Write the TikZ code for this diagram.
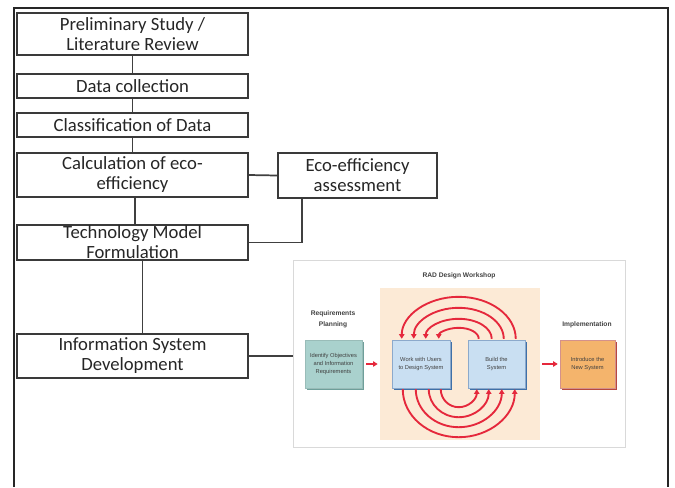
\documentclass[tikz,border=0pt]{standalone}
\usepackage{fontspec}
\setmainfont{Carlito}
\newfontfamily\radfont{Liberation Sans}
\usetikzlibrary{arrows.meta,calc,shadows}
\definecolor{boxline}{HTML}{3A3A3A}
\definecolor{connline}{HTML}{404040}
\definecolor{txt}{HTML}{262626}
\definecolor{radred}{HTML}{E5283C}
\definecolor{peach}{HTML}{FCEAD6}
\definecolor{greenfill}{HTML}{A9D1CD}
\definecolor{greenshadow}{HTML}{6E9F9A}
\definecolor{bluefill}{HTML}{C9DFF2}
\definecolor{blueshadow}{HTML}{3F70A8}
\definecolor{orangefill}{HTML}{F4B46C}
\definecolor{orangeshadow}{HTML}{B8473E}
\definecolor{radtxt}{HTML}{404040}
\begin{document}
\begin{tikzpicture}[x=0.75pt,y=-0.75pt,
  flowbox/.style={draw=boxline, line width=1.2pt, fill=white, minimum width=173.25pt,
    inner sep=0pt, align=center, text=txt, font=\fontsize{14}{15}\selectfont},
  conn/.style={draw=connline, line width=1.3pt},
  radbox/.style={minimum width=42.75pt, minimum height=36pt, inner sep=0pt, align=center,
    text=radtxt, font=\radfont\fontsize{4.3}{6}\selectfont},
  radtitle/.style={align=center, inner sep=0pt, text=radtxt, font=\radfont\bfseries\fontsize{5}{8.5}\selectfont},
  redarc/.style={draw=radred, line width=1.4pt, -{Triangle[length=3.5pt,width=4pt]}},
  redarrow/.style={draw=radred, line width=1.2pt, -{Triangle[length=3.5pt,width=4pt]}}
]
\useasboundingbox (0,0) rectangle (675,487);
\fill[white] (0,0) rectangle (675,487);
\draw[line width=1.5pt, black!85] (14,487) -- (14,8) -- (668,8) -- (668,487);

% flow boxes
\node[flowbox, minimum height=31.5pt] (b1) at (132.5,34) {Preliminary Study /\\Literature Review};
\node[flowbox, minimum height=18pt] (b2) at (132.5,86) {Data collection};
\node[flowbox, minimum height=18pt] (b3) at (132.5,125) {Classification of Data};
\node[flowbox, minimum height=33pt] (b4) at (132.5,175) {Calculation of eco-\\efficiency};
\node[flowbox, minimum height=26.25pt] (b5) at (132.5,242.5) {Technology Model\\Formulation};
\node[flowbox, minimum height=33pt] (b6) at (132.5,356) {Information System\\Development};
\node[flowbox, minimum width=119.25pt, minimum height=33.75pt] (eco) at (357.5,175.5) {Eco-efficiency\\assessment};

% RAD picture
\node[draw=gray!30, line width=0.6pt, fill=white, minimum width=249pt, minimum height=140.25pt, inner sep=0pt] (rad) at (459,353.5) {};
\node[fill=peach, minimum width=120pt, minimum height=114pt, inner sep=0pt] (peachbg) at (460,364) {};
\node[radtitle] (t1) at (459,276) {RAD Design Workshop};
\node[radtitle] (t2) at (333,319) {Requirements\\Planning};
\node[radtitle] (t3) at (587,325) {Implementation};
\node[radbox, fill=greenfill, draw=greenshadow!70, line width=0.3pt,
  drop shadow={shadow xshift=1.6pt, shadow yshift=-1.6pt, fill=greenshadow, opacity=1}]
  (g) at (333.5,364) {Identify Objectives\\and Information\\Requirements};
\node[radbox, minimum width=43.5pt, fill=bluefill, draw=blueshadow!60, line width=0.3pt,
  drop shadow={shadow xshift=1.6pt, shadow yshift=-1.6pt, fill=blueshadow, opacity=1}]
  (u1) at (421,364) {Work with Users\\to Design System};
\node[radbox, fill=bluefill, draw=blueshadow!60, line width=0.3pt,
  drop shadow={shadow xshift=1.6pt, shadow yshift=-1.6pt, fill=blueshadow, opacity=1}]
  (u2) at (496.5,364) {Build the\\System};
\node[radbox, minimum width=41.25pt, fill=orangefill, draw=orangeshadow!60, line width=0.3pt,
  drop shadow={shadow xshift=1.6pt, shadow yshift=-1.6pt, fill=orangeshadow, opacity=1}]
  (o) at (587.5,364) {Introduce the\\New System};

\coordinate (ctop) at ($(u1.north)!0.5!(u2.north)$);
\coordinate (cbot) at ($(u1.south)!0.5!(u2.south)$);
\foreach \rx/\ry in {57/42,45/31,33/20,20/11}
  \draw[redarc] ($(ctop)+(\rx,-1)$) arc[start angle=0,end angle=-180,x radius=\rx,y radius=\ry];
\foreach \rx/\ry in {56/48,43/38,30/28,18/18}
  \draw[redarc] ($(cbot)+(-\rx,1)$) arc[start angle=180,end angle=0,x radius=\rx,y radius=\ry];
\draw[redarrow] ($(g.east)+(4,0)$) -- ($(peachbg.west)+(-2,0)$);
\draw[redarrow] ($(peachbg.east)+(2,0)$) -- ($(o.west)+(-2,0)$);

% connectors
\draw[conn] (b1.south) -- (b2.north);
\draw[conn] (b2.south) -- (b3.north);
\draw[conn] (b3.south) -- (b4.north);
\draw[conn] ($(b4.south)+(2.5,0)$) -- ($(b5.north)+(2.5,0)$);
\draw[conn] ($(b5.south)+(10,0)$) -- ($(b6.north)+(10,0)$);
\draw[conn] (b4.east) -- (eco.west);
\draw[conn] (b5.east) -| ($(eco.south)+(-55.5,0)$);
\draw[conn] (b6.east) -- (b6.east -| rad.west);
\end{tikzpicture}
\end{document}
